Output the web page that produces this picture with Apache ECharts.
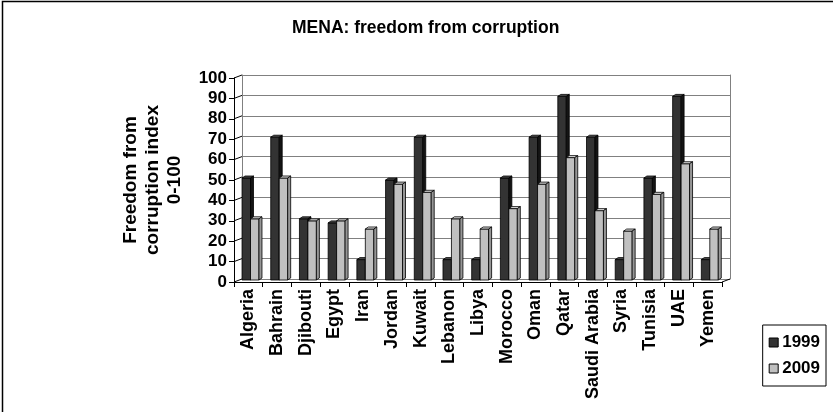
<!DOCTYPE html>
<html>
<head>
<meta charset="utf-8">
<script src="https://cdn.jsdelivr.net/npm/echarts@6/dist/echarts.min.js"></script>
<style>
  html, body { margin: 0; padding: 0; background: #fff; }
  #chart { width: 833px; height: 412px; }
</style>
</head>
<body>
<div id="chart"></div>
<script>
// Freedom-from-corruption index (0-100) for MENA countries, 1999 vs 2009
const categories = ['Algeria', 'Bahrain', 'Djibouti', 'Egypt', 'Iran', 'Jordan', 'Kuwait',
  'Lebanon', 'Libya', 'Morocco', 'Oman', 'Qatar', 'Saudi Arabia', 'Syria', 'Tunisia', 'UAE', 'Yemen'];
const values1999 = [50, 70, 30, 28, 10, 49, 70, 10, 10, 50, 70, 90, 70, 10, 50, 90, 10];
const values2009 = [30, 50, 29, 29, 25, 47, 43, 30, 25, 35, 47, 60, 34, 24, 42, 57, 25];
const yTicks = [0, 10, 20, 30, 40, 50, 60, 70, 80, 90, 100];
const seriesNames = ['1999', '2009'];

const FONT = '"Liberation Sans", Arial, sans-serif';
// pseudo-3D look: back wall offset and column depth
const WALL_DX = 8, WALL_DY = -3;
const DEPTH_DX = 3, DEPTH_DY = -2;

const palettes = [
  { front: '#333333', top: '#4a4a4a', side: '#141414' },
  { front: '#c0c0c0', top: '#dedede', side: '#969696' }
];

function columnRenderer(seriesIdx) {
  return function (params, api) {
    const idx = api.value(0);
    const v = api.value(1);
    const base = api.coord([idx, 0]);
    const topPt = api.coord([idx, v]);
    const cw = api.size([1, 0])[0];
    const bw = cw * 0.295;
    const x = base[0] - cw / 2 + cw * 0.28 + seriesIdx * bw;
    const yb = base[1] - 2;
    const yt = topPt[1] - 2;
    const p = palettes[seriesIdx];
    const stroke = { stroke: '#000', lineWidth: 0.8 };
    return {
      type: 'group',
      children: [
        { type: 'rect', shape: { x: x, y: yt, width: bw, height: yb - yt },
          style: Object.assign({ fill: p.front }, stroke) },
        { type: 'polygon', shape: { points: [[x, yt], [x + bw, yt], [x + bw + DEPTH_DX, yt + DEPTH_DY], [x + DEPTH_DX, yt + DEPTH_DY]] },
          style: Object.assign({ fill: p.top }, stroke) },
        { type: 'polygon', shape: { points: [[x + bw, yt], [x + bw + DEPTH_DX, yt + DEPTH_DY], [x + bw + DEPTH_DX, yb + DEPTH_DY], [x + bw, yb]] },
          style: Object.assign({ fill: p.side }, stroke) }
      ]
    };
  };
}

// short diagonal strokes joining the front value axis to the back wall
function wallLinkRenderer(params, api) {
  const v = api.value(1);
  const y = api.coord([0, v])[1];
  const cs = params.coordSys;
  const children = [{
    type: 'line',
    shape: { x1: cs.x, y1: y, x2: cs.x + WALL_DX, y2: y + WALL_DY },
    style: { stroke: '#000', lineWidth: 1 }
  }];
  if (v === 0) {
    children.push({
      type: 'line',
      shape: { x1: cs.x + cs.width, y1: y, x2: cs.x + cs.width + WALL_DX, y2: y + WALL_DY },
      style: { stroke: '#000', lineWidth: 1 }
    });
  }
  return { type: 'group', children: children };
}

const chart = echarts.init(document.getElementById('chart'), null, { renderer: 'canvas' });

chart.setOption({
  animation: false,
  backgroundColor: '#fff',
  textStyle: { fontFamily: FONT },
  title: {
    text: 'MENA: freedom from corruption',
    left: 287,
    top: 14,
    textStyle: { fontFamily: FONT, fontWeight: 'bold', fontSize: 17.5, color: '#000' }
  },
  legend: {
    orient: 'vertical',
    right: 7,
    top: 325,
    width: 60,
    padding: [9, 6, 9, 6],
    itemGap: 9,
    itemWidth: 9,
    itemHeight: 9,
    icon: 'rect',
    borderColor: '#000',
    borderWidth: 1,
    textStyle: { fontFamily: FONT, fontWeight: 'bold', fontSize: 17, color: '#000', padding: [0, 0, 0, -1] },
    data: [
      { name: seriesNames[0], itemStyle: { color: palettes[0].front, borderColor: '#000', borderWidth: 1 } },
      { name: seriesNames[1], itemStyle: { color: palettes[1].front, borderColor: '#000', borderWidth: 1 } }
    ]
  },
  graphic: [{
    type: 'rect',
    shape: { x: 2.5, y: 1.5, width: 1000, height: 1000 },
    style: { fill: null, stroke: '#000', lineWidth: 1.5 },
    silent: true
  }],
  grid: [
    // back wall
    { left: 234 + WALL_DX, right: 111 - WALL_DX, top: 78 + WALL_DY, bottom: 130 - WALL_DY },
    // front plane
    { left: 234, right: 111, top: 78, bottom: 130 }
  ],
  xAxis: [
    { gridIndex: 0, type: 'category', data: categories,
      axisLine: { show: false }, axisTick: { show: false }, axisLabel: { show: false } },
    { gridIndex: 1, type: 'category', data: categories,
      axisLine: { show: true, lineStyle: { color: '#000', width: 1 } },
      axisTick: { show: true, length: 5, lineStyle: { color: '#000' } },
      axisLabel: { rotate: 90, margin: 7, fontFamily: FONT, fontWeight: 'bold', fontSize: 18, color: '#000' } }
  ],
  yAxis: [
    { gridIndex: 0, type: 'value', min: 0, max: 100, interval: 10,
      axisLine: { show: true, lineStyle: { color: '#808080' } },
      axisTick: { show: false }, axisLabel: { show: false },
      splitLine: { show: true, lineStyle: { color: '#808080', width: 1 } } },
    { gridIndex: 0, type: 'value', min: 0, max: 100, interval: 10, position: 'right',
      axisLine: { show: true, lineStyle: { color: '#808080' } },
      axisTick: { show: false }, axisLabel: { show: false }, splitLine: { show: false } },
    { gridIndex: 1, type: 'value', min: 0, max: 100, interval: 10,
      name: 'Freedom from\ncorruption index\n0-100',
      nameLocation: 'middle',
      nameRotate: 90,
      nameGap: 48,
      nameTextStyle: { fontFamily: FONT, fontWeight: 'bold', fontSize: 19, color: '#000', lineHeight: 22 },
      axisLine: { show: true, lineStyle: { color: '#000', width: 1 } },
      axisTick: { show: true, length: 5, lineStyle: { color: '#000' } },
      axisLabel: { margin: 7, fontFamily: FONT, fontWeight: 'bold', fontSize: 17, color: '#000' },
      splitLine: { show: false } }
  ],
  series: [
    {
      type: 'custom', name: 'wall', xAxisIndex: 1, yAxisIndex: 2,
      renderItem: wallLinkRenderer,
      data: yTicks.map(function (t) { return [0, t]; }),
      silent: true, z: 1
    },
    {
      type: 'custom', name: seriesNames[0], xAxisIndex: 1, yAxisIndex: 2,
      itemStyle: { color: palettes[0].front, borderColor: '#000' },
      renderItem: columnRenderer(0),
      data: values1999.map(function (v, i) { return [i, v]; }),
      z: 3
    },
    {
      type: 'custom', name: seriesNames[1], xAxisIndex: 1, yAxisIndex: 2,
      itemStyle: { color: palettes[1].front, borderColor: '#000' },
      renderItem: columnRenderer(1),
      data: values2009.map(function (v, i) { return [i, v]; }),
      z: 4
    }
  ]
});
</script>
</body>
</html>
